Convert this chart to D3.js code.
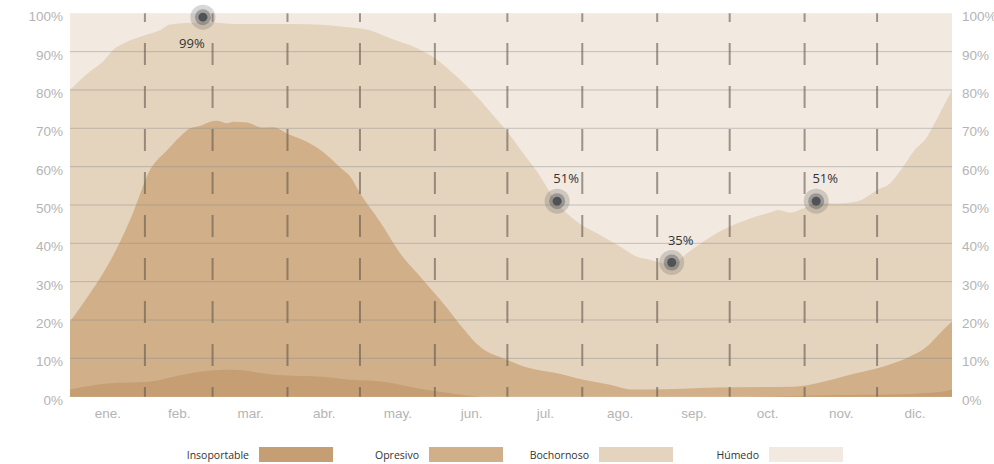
<!DOCTYPE html>
<html>
<head>
<meta charset="utf-8">
<script src="https://cdn.jsdelivr.net/npm/d3@7"></script>
<style>
  html, body { margin: 0; padding: 0; background: #ffffff; }
  svg { display: block; font-family: "Open Sans", "Noto Sans", sans-serif; }
</style>
</head>
<body>
<svg id="chart" width="994" height="464"></svg>
<script>
// Percentage of time at or above each humidity comfort level, by day of year.
const monthLabels = ["ene.", "feb.", "mar.", "abr.", "may.", "jun.", "jul.", "ago.", "sep.", "oct.", "nov.", "dic."];
const monthStarts = [0, 31, 59, 90, 120, 151, 181, 212, 243, 273, 304, 334, 365];
const yTicks = [0, 10, 20, 30, 40, 50, 60, 70, 80, 90, 100];

const levelNames = ["Insoportable", "Opresivo", "Bochornoso", "Húmedo"];
const levelColors = ["#c59e73", "#d0af89", "#e4d3bd", "#f2e9e0"];

// Bochornoso or worse (cumulative %)
const bochornosoDays = [0, 8.3, 13.7, 17.8, 23.6, 31, 37.3, 41.4, 55, 59.2, 67.5, 92.3, 116, 124, 132.5, 143.6, 151, 160, 168.5, 175, 181, 187.5, 193.3, 201.6, 211, 218, 226.4, 234.7, 240, 245.5, 249, 255.4, 262, 272.8, 281.5, 291, 293, 298, 303.4, 308.8, 317.5, 325.7, 334, 339.4, 344.8, 349, 354.7, 358.9, 365];
const bochornosoPct = [80, 84.8, 87.4, 90.4, 92.6, 94.3, 95.6, 97.1, 97.6, 97.6, 97.2, 97.2, 96.3, 95.6, 93.5, 90.9, 88.3, 83.5, 78.2, 73.5, 69.1, 63.5, 58.7, 50.6, 45.1, 42.6, 39.6, 36.5, 35.7, 34.8, 34.6, 37.4, 40.4, 44.3, 46.5, 48.3, 48.7, 48.0, 49.1, 50.5, 50.4, 50.9, 53.9, 55.7, 60.0, 63.9, 67.8, 72.6, 80];

// Opresivo or worse (cumulative %)
const opresivoDays = [0, 8.3, 13.7, 19.4, 26, 33.1, 40.2, 45.5, 49.7, 53.8, 58, 60.9, 65.1, 67.5, 73.2, 79.7, 83.9, 91, 98, 104.6, 113, 116, 120, 128.3, 136.6, 146.2, 156.1, 162.7, 169.7, 181, 190.4, 201.6, 212.4, 223.5, 231.8, 240, 268, 299.3, 309.2, 322.8, 336.4, 347.5, 354.5, 359.9, 365];
const opresivoPct = [19.6, 27.0, 32.2, 38.7, 47.8, 59.1, 64.3, 67.8, 70.0, 70.6, 71.7, 72.0, 71.3, 71.7, 71.5, 70.2, 70.3, 68.3, 66.5, 63.9, 59.1, 57.4, 53.1, 45.6, 37.4, 30.4, 23.1, 17.8, 13.0, 9.6, 7.4, 6.1, 4.4, 3.1, 1.9, 1.9, 2.4, 2.6, 3.5, 5.7, 7.8, 10.4, 13.0, 16.5, 19.6];

// Insoportable (%)
const insoportableDays = [0, 16.6, 33.1, 44.3, 53.8, 67.5, 84, 106.3, 116, 129.7, 143.6, 157.3, 171, 280, 300, 330, 350, 360, 365];
const insoportablePct = [1.9, 3.5, 3.9, 5.4, 6.5, 7.0, 5.7, 5.1, 4.4, 3.9, 2.2, 0.9, 0, 0, 0.2, 0.5, 0.8, 1.2, 1.9];

// Highlighted values
const markerDays = [55, 201.6, 249, 308.8];
const markerPct = [99, 51, 35, 51];

const svg = d3.select("#chart");
const plotLeft = 70, plotRight = 952, plotTop = 13.3, plotBottom = 396.7;

const x = d3.scaleLinear().domain([0, 365]).range([plotLeft, plotRight]);
const y = d3.scaleLinear().domain([0, 100]).range([plotBottom, plotTop]);

const area = d3.area()
  .x(d => x(d[0]))
  .y0(y(0))
  .y1(d => y(d[1]))
  .curve(d3.curveMonotoneX);

const zip = (a, b) => a.map((v, i) => [v, b[i]]);

// Húmedo fills the whole plot; the other levels are layered on top.
svg.append("path")
  .attr("d", area([[0, 100], [365, 100]]))
  .attr("fill", levelColors[3]);
svg.append("path")
  .attr("d", area(zip(bochornosoDays, bochornosoPct)))
  .attr("fill", levelColors[2]);
svg.append("path")
  .attr("d", area(zip(opresivoDays, opresivoPct)))
  .attr("fill", levelColors[1]);
svg.append("path")
  .attr("d", area(zip(insoportableDays, insoportablePct)))
  .attr("fill", levelColors[0]);

// Horizontal grid
svg.append("g")
  .selectAll("line")
  .data(yTicks.filter(t => t > 0 && t < 100))
  .join("line")
  .attr("x1", plotLeft).attr("x2", plotRight)
  .attr("y1", d => y(d)).attr("y2", d => y(d))
  .attr("stroke", "rgba(140,140,140,0.45)")
  .attr("stroke-width", 1);

// Month boundaries
svg.append("g")
  .selectAll("line")
  .data(monthStarts.slice(1, 12))
  .join("line")
  .attr("x1", d => x(d)).attr("x2", d => x(d))
  .attr("y1", plotTop).attr("y2", plotBottom)
  .attr("stroke", "rgba(100,88,76,0.6)")
  .attr("stroke-width", 2)
  .attr("stroke-dasharray", "22,21")
  .attr("stroke-dashoffset", plotTop);

// Y axes (left and right)
const pctFmt = d => d + "%";
const styleAxis = g => {
  g.select(".domain").remove();
  g.selectAll(".tick line").remove();
  g.selectAll("text")
    .attr("fill", "#b4b4b4")
    .attr("font-size", "13.5px")
    .attr("dy", "0.55em");
};
svg.append("g")
  .attr("transform", `translate(${plotLeft},0)`)
  .call(d3.axisLeft(y).tickValues(yTicks).tickFormat(pctFmt).tickSize(0).tickPadding(7))
  .call(styleAxis);
svg.append("g")
  .attr("transform", `translate(${plotRight},0)`)
  .call(d3.axisRight(y).tickValues(yTicks).tickFormat(pctFmt).tickSize(0).tickPadding(10))
  .call(styleAxis);

// Month labels at mid-month
const midMonths = monthLabels.map((m, i) => (monthStarts[i] + monthStarts[i + 1]) / 2);
svg.append("g")
  .attr("transform", `translate(0,${plotBottom})`)
  .call(d3.axisBottom(x).tickValues(midMonths).tickFormat((d, i) => monthLabels[i]).tickSize(0).tickPadding(12))
  .call(g => {
    g.select(".domain").remove();
    g.selectAll("text").attr("fill", "#b4b4b4").attr("font-size", "13.5px");
  });

// Highlight markers
const markers = svg.append("g")
  .selectAll("g")
  .data(zip(markerDays, markerPct))
  .join("g")
  .attr("transform", d => `translate(${x(d[0])},${y(d[1])})`);
markers.append("circle").attr("r", 12.5).attr("fill", "rgba(110,110,110,0.28)");
markers.append("circle").attr("r", 8).attr("fill", "rgba(80,80,80,0.4)");
markers.append("circle").attr("r", 4.5).attr("fill", "#4f5357");
markers.append("text")
  .text(d => d[1] + "%")
  .attr("text-anchor", "middle")
  .attr("x", d => d[1] > 90 ? -11 : 9)
  .attr("y", d => d[1] > 90 ? 31 : -18)
  .attr("fill", "#333")
  .attr("font-size", "13px");

// Legend
const legend = svg.append("g")
  .selectAll("g")
  .data(levelNames)
  .join("g")
  .attr("transform", (d, i) => `translate(${259 + i * 170},447)`);
legend.append("rect")
  .attr("width", 74).attr("height", 15)
  .attr("fill", (d, i) => levelColors[i]);
legend.append("text")
  .text(d => d)
  .attr("x", -10).attr("y", 11.5)
  .attr("text-anchor", "end")
  .attr("fill", "#333")
  .attr("font-size", "10.5px");
</script>
</body>
</html>
